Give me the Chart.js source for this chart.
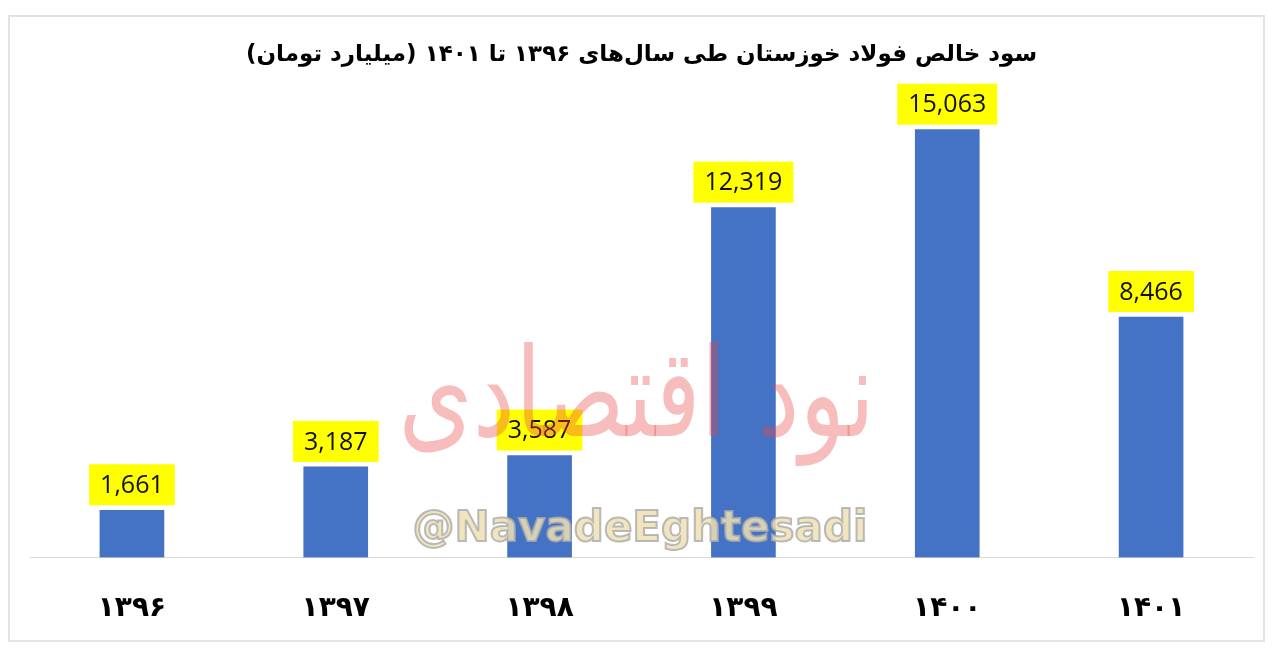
<!DOCTYPE html>
<html>
<head>
<meta charset="utf-8">
<script src="https://cdn.jsdelivr.net/npm/chart.js@4.4.0/dist/chart.umd.min.js"></script>
<style>
  html, body { margin: 0; padding: 0; background: #fff; }
  body { width: 1280px; height: 659px; position: relative; overflow: hidden; }
  .frame { position: absolute; left: 8px; top: 15px; width: 1253px; height: 623px; border: 2px solid #e3e3e3; }
  canvas { position: absolute; left: 0; top: 0; }
  .wm { position: absolute; pointer-events: none; white-space: nowrap; }
  .wm-fa { left: 405px; top: 322px; width: 470px; text-align: center; font: 95px "DejaVu Sans"; color: rgba(232, 70, 70, 0.36); direction: rtl; transform: scaleY(1.3); transform-origin: top; }
  .wm-en { left: 385px; top: 502px; width: 510px; text-align: center; font: bold 42px "DejaVu Sans"; color: rgba(238, 224, 180, 0.85); -webkit-text-stroke: 2px rgba(170, 170, 170, 0.8); }
</style>
</head>
<body>
<div class="frame"></div>
<canvas id="myChart" width="1280" height="659"></canvas>
<div class="wm wm-fa">نود اقتصادی</div>
<div class="wm wm-en">@NavadeEghtesadi</div>
<script>
const titleText = "سود خالص فولاد خوزستان طی سال‌های ۱۳۹۶ تا ۱۴۰۱ (میلیارد تومان)";
const years = ["۱۳۹۶", "۱۳۹۷", "۱۳۹۸", "۱۳۹۹", "۱۴۰۰", "۱۴۰۱"];
const profits = [1661, 3187, 3587, 12319, 15063, 8466];

const ctx = document.getElementById("myChart").getContext("2d");

// yellow boxed value labels above the bars
const valueLabels = {
  id: "valueLabels",
  afterDatasetsDraw(chart) {
    const c = chart.ctx;
    const meta = chart.getDatasetMeta(0);
    c.save();
    c.font = "25px 'Open Sans'";
    c.textAlign = "center";
    c.textBaseline = "middle";
    meta.data.forEach((bar, i) => {
      const txt = profits[i].toLocaleString("en-US");
      const w = c.measureText(txt).width + 22;
      const h = 41;
      const bottom = bar.y - 5;
      c.fillStyle = "#ffff00";
      c.fillRect(bar.x - w / 2, bottom - h, w, h);
      c.fillStyle = "#111";
      c.fillText(txt, bar.x, bottom - h / 2 + 1);
    });
    c.restore();
  },
};

new Chart(ctx, {
  type: "bar",
  data: {
    labels: years,
    datasets: [
      {
        data: profits,
        backgroundColor: "#4472c4",
        barThickness: 64,
      },
    ],
  },
  options: {
    responsive: false,
    animation: false,
    layout: { padding: { left: 30, right: 27, bottom: 6 } },
    plugins: {
      legend: { display: false },
      tooltip: { enabled: false },
      title: {
        display: true,
        text: titleText,
        rtl: true,
        color: "#000",
        font: { family: "DejaVu Sans", size: 23, weight: "bold" },
        padding: { top: 41, bottom: 34.5 },
      },
    },
    scales: {
      x: {
        grid: { display: false },
        border: { display: true, color: "#d9d9d9", width: 1 },
        ticks: {
          color: "#000",
          padding: 27,
          font: { family: "DejaVu Sans", size: 28, weight: "bold" },
        },
      },
      y: {
        display: false,
        min: 0,
        max: 16000,
      },
    },
  },
  plugins: [valueLabels],
});
</script>
</body>
</html>
